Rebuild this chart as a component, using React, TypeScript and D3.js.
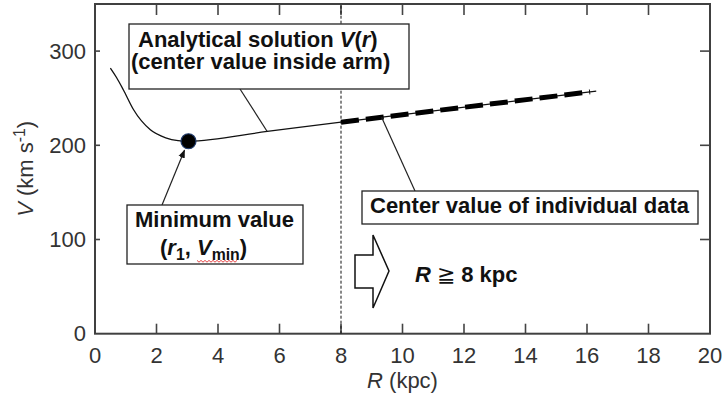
import React, { useEffect, useRef } from 'react';
import * as d3 from 'd3';

// analytical solution V(r) (kpc, km/s)
const curveR = [0.5, 0.7, 0.92, 1.25, 1.8, 2.3, 2.7, 3.04, 5.6, 8, 16.3];
const curveV = [282, 272, 259, 238, 216.5, 208, 205, 204.3, 214.7, 224.5, 257.5];
// center value of individual data (thick dashed part)
const dataR = [8, 16.1];
const dataV = [224.5, 256.7];
// minimum point (r1, Vmin)
const minR = [3.04];
const minV = [204.3];
const boundaryR = 8;

const rTicks = [0, 2, 4, 6, 8, 10, 12, 14, 16, 18, 20];
const vTicks = [0, 100, 200, 300];

const W = 726;
const H = 399;
const FONT = '"Liberation Sans", Arial, sans-serif';

type Part = { t: string; i?: boolean; sub?: boolean; sup?: boolean; n?: boolean };

const App: React.FC = () => {
  const ref = useRef<SVGSVGElement | null>(null);

  useEffect(() => {
    if (!ref.current) return;
    const svg = d3.select(ref.current);
    svg.selectAll('*').remove();

    const margin = { top: 4, right: 16, bottom: 65, left: 95 };
    const x = d3.scaleLinear().domain([0, 20]).range([margin.left, W - margin.right]);
    const y = d3.scaleLinear().domain([0, 350]).range([H - margin.bottom - 0.3, margin.top]);

    const defs = svg.append('defs');
    defs
      .append('marker')
      .attr('id', 'ah')
      .attr('viewBox', '0 0 10 10')
      .attr('refX', 9)
      .attr('refY', 5)
      .attr('markerWidth', 7)
      .attr('markerHeight', 7)
      .attr('orient', 'auto')
      .append('path')
      .attr('d', 'M0,1 L10,5 L0,9 Z')
      .attr('fill', '#111');

    // rich text helper
    const rich = (px: number, py: number, parts: Part[], size = 22, bold = true) => {
      const t = svg
        .append('text')
        .attr('x', px)
        .attr('y', py)
        .attr('font-family', FONT)
        .attr('font-size', size)
        .attr('font-weight', bold ? 'bold' : 'normal')
        .attr('fill', '#111');
      let shift = 0;
      parts.forEach((p) => {
        const target = p.sub ? 5 : p.sup ? -8 : 0;
        const s = t
          .append('tspan')
          .text(p.t)
          .attr('dy', target - shift)
          .attr('font-style', p.i ? 'italic' : 'normal');
        if (p.sub || p.sup) s.attr('font-size', size * 0.72);
        if (p.n) s.attr('font-weight', 'normal');
        shift = target;
      });
      return t;
    };

    // ticks (inward, mirrored)
    const tk = svg.append('g').attr('stroke', '#444').attr('stroke-width', 1.6);
    rTicks.slice(1, -1).forEach((r) => {
      tk.append('line').attr('x1', x(r)).attr('x2', x(r)).attr('y1', y(0)).attr('y2', y(0) - 10);
      tk.append('line').attr('x1', x(r)).attr('x2', x(r)).attr('y1', y(350)).attr('y2', y(350) + 11);
    });
    vTicks.slice(1).forEach((v) => {
      tk.append('line').attr('x1', x(0)).attr('x2', x(0) + 5).attr('y1', y(v)).attr('y2', y(v));
      tk.append('line').attr('x1', x(20)).attr('x2', x(20) - 10).attr('y1', y(v)).attr('y2', y(v));
    });

    // frame
    svg
      .append('rect')
      .attr('x', x(0))
      .attr('y', y(350))
      .attr('width', x(20) - x(0))
      .attr('height', y(0) - y(350))
      .attr('fill', 'none')
      .attr('stroke', '#404040')
      .attr('stroke-width', 2);

    // tick labels
    svg
      .append('g')
      .selectAll('text')
      .data(rTicks)
      .enter()
      .append('text')
      .attr('x', (d) => x(d))
      .attr('y', 363)
      .attr('text-anchor', 'middle')
      .attr('font-family', FONT)
      .attr('font-size', 22)
      .attr('fill', '#333')
      .text((d) => d);
    svg
      .append('g')
      .selectAll('text')
      .data(vTicks)
      .enter()
      .append('text')
      .attr('x', 86)
      .attr('y', (d) => y(d) + 7.5)
      .attr('text-anchor', 'end')
      .attr('font-family', FONT)
      .attr('font-size', 22)
      .attr('fill', '#333')
      .text((d) => d);

    // axis titles
    const xt = rich(0, 388, [{ t: 'R', i: true }, { t: ' (kpc)' }], 22, false);
    xt.attr('fill', '#333');
    const xw = (xt.node() as SVGTextElement).getComputedTextLength();
    xt.attr('x', (x(0) + x(20)) / 2 - xw / 2);

    const yt = rich(0, 0, [{ t: 'V', i: true }, { t: ' (km s' }, { t: '-1', sup: true }, { t: ')' }], 22, false);
    yt.attr('fill', '#333');
    const yw = (yt.node() as SVGTextElement).getComputedTextLength();
    yt.attr('transform', `translate(33,${(y(0) + y(350)) / 2 + yw / 2}) rotate(-90)`);

    // boundary at R = 8 kpc
    svg
      .append('line')
      .attr('x1', x(boundaryR))
      .attr('x2', x(boundaryR))
      .attr('y1', y(0))
      .attr('y2', y(350))
      .attr('stroke', '#111')
      .attr('stroke-width', 1)
      .attr('stroke-dasharray', '3,2');

    const line = d3
      .line<number>()
      .x((d) => x(curveR[d]))
      .y((d) => y(curveV[d]))
      .curve(d3.curveMonotoneX);
    svg
      .append('path')
      .attr('d', line(d3.range(curveR.length)))
      .attr('fill', 'none')
      .attr('stroke', '#111')
      .attr('stroke-width', 1.3);

    const dline = d3
      .line<number>()
      .x((d) => x(dataR[d]))
      .y((d) => y(dataV[d]));
    svg
      .append('path')
      .attr('d', dline(d3.range(dataR.length)))
      .attr('fill', 'none')
      .attr('stroke', '#000')
      .attr('stroke-width', 5)
      .attr('stroke-dasharray', '18,7');

    // pointer lines
    const ptr = svg.append('g').attr('stroke', '#222').attr('stroke-width', 1.2);
    ptr.append('line').attr('x1', 240).attr('y1', 89).attr('x2', x(5.6)).attr('y2', y(214.7));
    ptr.append('line').attr('x1', 415).attr('y1', 191).attr('x2', x(9.32)).attr('y2', y(229.8));
    ptr
      .append('line')
      .attr('x1', 162)
      .attr('y1', 205)
      .attr('x2', x(minR[0]) - 4)
      .attr('y2', y(minV[0]) + 9)
      .attr('marker-end', 'url(#ah)');

    // minimum point
    svg
      .selectAll('circle.min')
      .data(minR)
      .enter()
      .append('circle')
      .attr('cx', (d) => x(d))
      .attr('cy', (_, i) => y(minV[i]))
      .attr('r', 7.5)
      .attr('fill', '#000')
      .attr('stroke', '#1f3a6b')
      .attr('stroke-width', 1.2);

    // annotation boxes
    const box = (bx: number, by: number, bw: number, bh: number) =>
      svg
        .append('rect')
        .attr('x', bx)
        .attr('y', by)
        .attr('width', bw)
        .attr('height', bh)
        .attr('fill', '#fff')
        .attr('stroke', '#222')
        .attr('stroke-width', 1.3);

    box(129, 24, 280, 65);
    rich(138, 47, [{ t: 'Analytical solution ' }, { t: 'V', i: true }, { t: '(' }, { t: 'r', i: true }, { t: ')' }]);
    rich(131, 69, [{ t: '(center value inside arm)' }]);

    box(127, 205, 176, 59);
    rich(135, 227, [{ t: 'Minimum value' }]);
    rich(160, 255, [
      { t: '(' },
      { t: 'r', i: true },
      { t: '1', sub: true },
      { t: ', ' },
      { t: 'V', i: true },
      { t: 'min', sub: true },
      { t: ')' },
    ]);
    // spell-check squiggle under "min"
    const sq = d3.range(0, 41, 2).map((d, i) => [197 + d, 261 + (i % 2 ? 1.2 : -0.6)] as [number, number]);
    svg
      .append('path')
      .attr('d', d3.line()(sq))
      .attr('fill', 'none')
      .attr('stroke', '#e03030')
      .attr('stroke-width', 0.9);

    box(362, 191, 336, 33);
    rich(370, 213, [{ t: 'Center value of individual data' }]);

    // block arrow
    svg
      .append('path')
      .attr('d', 'M355,255 L373,255 L373,235 L389,271 L373,308 L373,288 L355,288 Z')
      .attr('fill', '#fff')
      .attr('stroke', '#111')
      .attr('stroke-width', 1.5)
      .attr('stroke-linejoin', 'miter');

    rich(415, 282, [{ t: 'R', i: true }, { t: ' ≧ ', n: true }, { t: '8 kpc' }]);
  }, []);

  return (
    <svg
      ref={ref}
      width={W}
      height={H}
      style={{ position: 'absolute', left: 0, top: 0, background: '#fff' }}
    ></svg>
  );
};

export default App;
